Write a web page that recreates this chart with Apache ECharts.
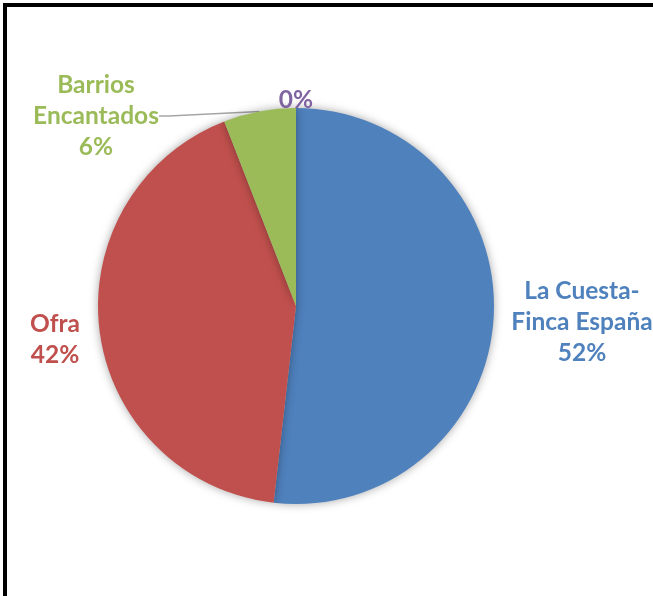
<!DOCTYPE html>
<html><head><meta charset="utf-8">
<script src="https://cdn.jsdelivr.net/npm/echarts@6/dist/echarts.min.js"></script>
<style>html,body{margin:0;padding:0;background:#fff}#c{width:653px;height:596px}</style>
</head><body><div id="c"></div>
<script>
var categories = ['La Cuesta-\nFinca España', 'Ofra', 'Barrios\nEncantados', ''];
var values = [51.8, 42.3, 5.9, 0];
var colors = ['#4F81BD', '#C0504D', '#9BBB59', '#8064A2'];

var labelPos = [[582, 322], [55, 340], [96, 116], [296, 100]];

var chart = echarts.init(document.getElementById('c'), null, {renderer: 'canvas'});
var data = categories.map(function (n, i) {
  return {
    name: n, value: values[i],
    itemStyle: {color: colors[i]},
    label: {color: colors[i]},
    labelLine: {show: i === 2, lineStyle: {color: '#A6A6A6', width: 1.5}}
  };
});
chart.setOption({
  animation: false,
  graphic: [
    {type: 'polyline', shape: {points: [[5, 596], [5, 5], [653, 5]]}, style: {stroke: '#000', lineWidth: 4, fill: null}}
  ],
  series: [{
    type: 'pie',
    center: [296, 306],
    radius: 198,
    startAngle: 90,
    clockwise: true,
    minAngle: 0,
    avoidLabelOverlap: false,
    data: data,
    itemStyle: {shadowBlur: 10, shadowColor: 'rgba(0,0,0,0.35)'},
    label: {
      show: true,
      position: 'outside',
      fontFamily: 'Lato',
      fontWeight: 'bold',
      fontSize: 24.5,
      lineHeight: 31,
      align: 'center',
      formatter: function (p) {
        var pct = Math.round(p.percent) + '%';
        return p.name ? p.name + '\n' + pct : pct;
      }
    },
    labelLine: {length: 10, length2: 10},
    labelLayout: function (p) {
      var pos = labelPos[p.dataIndex];
      return {x: pos[0], y: pos[1], align: 'center', verticalAlign: 'middle'};
    }
  }]
});
</script></body></html>
